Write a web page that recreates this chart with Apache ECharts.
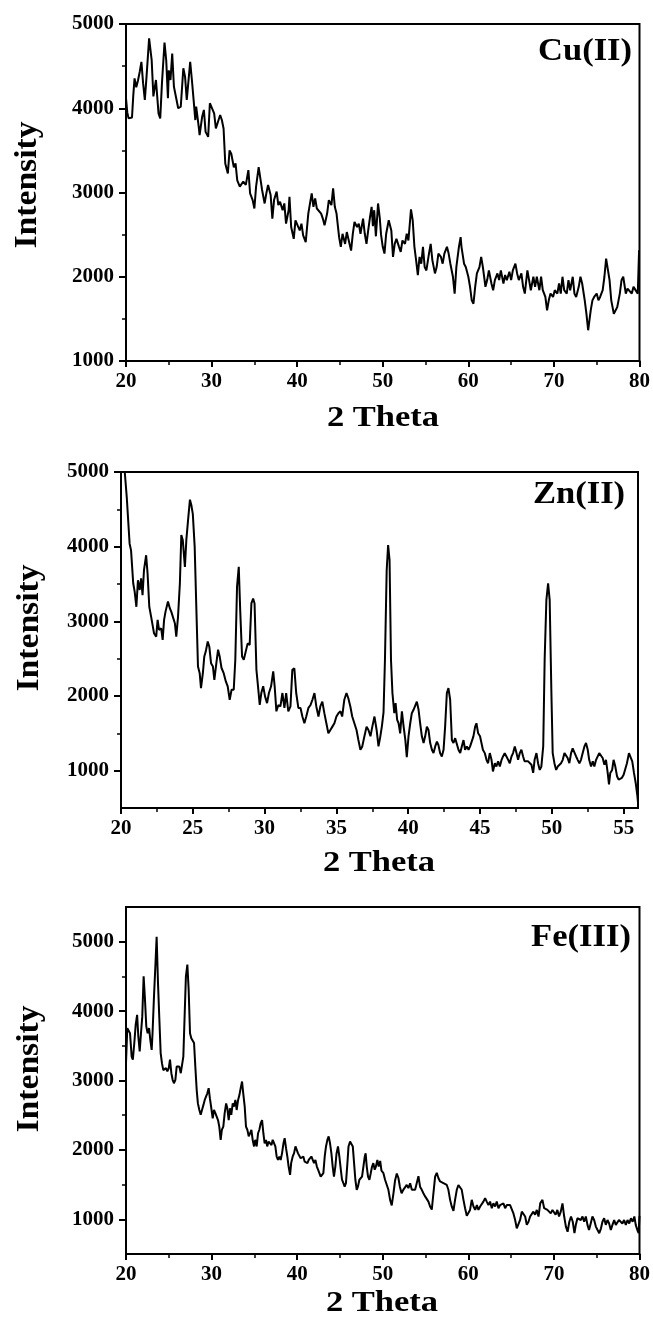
<!DOCTYPE html>
<html>
<head>
<meta charset="utf-8">
<script src="https://cdn.jsdelivr.net/npm/echarts@6.0.0/dist/echarts.min.js"></script>
<style>
html,body{margin:0;padding:0;background:#fff;}
#chart{width:653px;height:1322px;}
</style>
</head>
<body>
<div id="chart"></div>
<script>
// ---------------- DATA ----------------
const cuTheta = [20.0,20.15,20.3,20.5,20.7,20.85,21.0,21.2,21.4,21.6,21.8,22.0,22.2,22.4,22.7,23.0,23.2,23.5,23.8,24.0,24.2,24.5,24.7,24.9,25.0,25.2,25.4,25.6,25.8,26.1,26.4,26.7,26.9,27.1,27.5,27.7,27.9,28.1,28.2,28.5,28.6,28.9,29.1,29.3,29.6,29.8,30.0,30.3,30.5,30.7,31.0,31.2,31.4,31.6,31.9,32.1,32.3,32.6,32.8,33.0,33.3,33.5,33.7,34.0,34.3,34.5,34.8,35.0,35.2,35.5,35.7,35.9,36.2,36.4,36.6,36.9,37.1,37.3,37.6,37.8,38.0,38.3,38.5,38.7,39.0,39.1,39.3,39.6,39.8,40.0,40.3,40.5,40.7,41.0,41.1,41.3,41.5,41.7,41.9,42.1,42.3,42.5,42.8,43.0,43.2,43.5,43.7,44.0,44.2,44.4,44.6,44.9,45.1,45.3,45.6,45.8,46.0,46.3,46.5,46.7,47.0,47.2,47.4,47.7,47.9,48.1,48.3,48.5,48.7,48.85,49.0,49.2,49.45,49.65,49.8,50.0,50.2,50.4,50.7,51.0,51.2,51.4,51.6,51.9,52.1,52.3,52.6,52.8,53.0,53.3,53.5,53.7,53.9,54.1,54.3,54.5,54.7,54.9,55.1,55.4,55.6,55.8,56.1,56.3,56.5,56.8,57.0,57.2,57.5,57.7,57.9,58.2,58.4,58.6,58.9,59.1,59.2,59.5,59.7,60.0,60.2,60.4,60.6,60.8,61.0,61.3,61.5,61.7,62.0,62.2,62.4,62.7,62.9,63.1,63.4,63.6,63.8,64.1,64.3,64.5,64.8,65.0,65.2,65.5,65.7,65.9,66.2,66.4,66.6,66.9,67.1,67.3,67.6,67.8,68.0,68.3,68.5,68.7,69.0,69.2,69.4,69.6,69.9,70.1,70.4,70.6,70.8,71.0,71.2,71.5,71.7,71.9,72.2,72.4,72.6,72.9,73.1,73.3,73.6,73.8,74.0,74.3,74.5,74.7,75.0,75.2,75.4,75.7,75.9,76.1,76.3,76.5,76.7,77.0,77.2,77.4,77.7,77.9,78.1,78.4,78.6,78.8,79.1,79.3,79.5,79.8,79.95];
const cuIntensity = [4117,3950,3880,3900,3890,4150,4355,4250,4330,4430,4550,4295,4100,4375,4830,4570,4140,4335,3940,3880,4295,4780,4570,4120,4450,4335,4650,4255,4255,4000,4020,4475,4375,4100,4550,4335,4100,3860,4020,3780,3680,3900,3980,3720,3660,4060,4080,3940,3760,3760,3920,3860,3760,3345,3225,3500,3460,3300,3345,3145,3070,3070,3130,3090,3265,2990,2910,2810,3070,3300,3285,3030,2870,2990,3090,2970,2690,2910,3010,2850,2890,2790,2870,2630,2790,2950,2590,2450,2670,2690,2550,2630,2490,2410,2430,2750,2870,2990,2830,2930,2810,2790,2750,2690,2610,2750,2910,2850,3050,2830,2750,2470,2355,2510,2390,2530,2510,2310,2510,2650,2590,2630,2510,2690,2510,2390,2550,2700,2830,2600,2790,2480,2870,2700,2500,2355,2275,2510,2670,2550,2235,2390,2450,2355,2295,2430,2390,2510,2430,2800,2670,2355,2195,2020,2235,2155,2355,2115,2075,2275,2390,2195,2040,2115,2275,2235,2155,2275,2355,2275,2155,2000,1800,2115,2355,2470,2355,2155,2115,2000,1880,1720,1680,1880,2040,2115,2235,2115,1880,1960,2075,1920,1840,1960,2040,1960,2075,1920,2020,1960,2060,1960,2075,2155,2040,1960,2040,1880,1800,2075,1960,1840,2000,1880,2000,1840,2000,1840,1760,1600,1720,1800,1760,1840,1800,1920,1800,2000,1840,1800,1960,1840,2000,1800,1760,1880,2000,1920,1720,1560,1365,1600,1720,1760,1800,1720,1760,1840,2000,2215,2235,1960,1720,1560,1540,1640,1800,1960,2000,1800,1860,1880,1800,1880,1900,1800,2315];

const znTheta = [20.15,20.2,20.4,20.6,20.7,20.85,20.95,21.07,21.18,21.3,21.4,21.5,21.6,21.75,21.85,21.97,22.1,22.2,22.3,22.45,22.55,22.65,22.8,22.9,23.0,23.1,23.27,23.4,23.5,23.6,23.75,23.85,23.97,24.1,24.2,24.3,24.45,24.55,24.67,24.8,24.9,25.0,25.13,25.25,25.36,25.48,25.57,25.7,25.8,25.9,26.04,26.15,26.27,26.4,26.5,26.64,26.76,26.87,27.0,27.15,27.3,27.43,27.57,27.7,27.85,27.96,28.08,28.2,28.3,28.43,28.55,28.68,28.82,28.96,29.08,29.2,29.3,29.43,29.54,29.66,29.77,29.9,30.03,30.17,30.3,30.45,30.6,30.7,30.82,30.96,31.1,31.24,31.38,31.5,31.65,31.8,31.93,32.07,32.2,32.35,32.5,32.63,32.77,32.9,33.05,33.2,33.33,33.47,33.6,33.75,33.88,34.02,34.16,34.3,34.44,34.58,34.72,34.86,35.0,35.14,35.28,35.4,35.55,35.7,35.83,35.97,36.1,36.25,36.4,36.53,36.67,36.8,36.95,37.1,37.23,37.37,37.5,37.65,37.8,37.93,38.05,38.17,38.28,38.38,38.5,38.6,38.7,38.8,38.9,39.03,39.12,39.23,39.33,39.44,39.56,39.68,39.8,39.9,40.02,40.14,40.25,40.37,40.5,40.6,40.72,40.83,40.95,41.07,41.18,41.3,41.41,41.53,41.65,41.76,41.88,42.0,42.1,42.22,42.34,42.46,42.57,42.69,42.8,42.92,43.04,43.15,43.27,43.38,43.5,43.62,43.73,43.85,43.96,44.08,44.2,44.31,44.43,44.54,44.66,44.75,44.87,45.0,45.1,45.2,45.33,45.45,45.56,45.68,45.8,45.9,46.03,46.14,46.26,46.38,46.5,46.6,46.72,46.84,46.96,47.07,47.19,47.3,47.42,47.54,47.65,47.77,47.88,48.0,48.1,48.23,48.35,48.46,48.58,48.7,48.8,48.93,49.04,49.16,49.27,49.4,49.5,49.62,49.74,49.85,49.97,50.06,50.18,50.3,50.41,50.53,50.64,50.76,50.88,51.0,51.1,51.22,51.34,51.45,51.57,51.69,51.8,51.92,52.03,52.15,52.27,52.38,52.5,52.6,52.73,52.85,52.96,53.08,53.2,53.3,53.42,53.54,53.66,53.77,53.89,53.98,54.07,54.2,54.3,54.42,54.54,54.65,54.77,54.88,55.0,55.1,55.23,55.37,55.49,55.6,55.72,55.84,55.96,56.0];
const znIntensity = [5400,5150,4665,4040,3950,3510,3400,3195,3550,3420,3575,3350,3685,3885,3640,3195,3060,3040,2840,2795,3020,2885,2905,2750,3020,3130,3265,3175,3130,3130,2975,2795,3060,3510,4155,4090,3730,4090,4355,4630,4555,4440,4000,3150,2395,2305,2105,2305,2530,2595,2730,2660,2440,2395,2215,2440,2620,2530,2375,2305,2195,2130,1950,2085,2085,2485,3465,3730,3150,2530,2485,2505,2705,2685,3240,3305,3240,2350,2130,1880,2040,2130,1995,1905,2040,2130,2330,2130,1795,1880,1860,2040,1840,2040,1795,1860,2350,2370,2040,1840,1840,1725,1635,1725,1840,1880,1950,2040,1860,1725,1860,1925,1770,1635,1500,1545,1590,1635,1725,1770,1795,1725,1950,2040,1970,1860,1725,1635,1545,1410,1280,1325,1460,1590,1545,1460,1590,1725,1545,1325,1450,1600,1780,2485,3685,4020,3820,2485,2040,1770,1905,1680,1635,1500,1795,1590,1410,1180,1460,1635,1770,1815,1840,1925,1815,1635,1460,1370,1460,1590,1545,1370,1280,1235,1325,1390,1345,1235,1190,1280,1590,2040,2105,1950,1410,1370,1435,1410,1280,1235,1325,1410,1280,1325,1280,1325,1345,1460,1590,1635,1500,1460,1370,1280,1235,1145,1100,1235,1145,990,1100,1055,1125,1055,1145,1190,1235,1190,1145,1100,1190,1235,1325,1235,1145,1235,1280,1190,1125,1145,1125,1100,1080,970,1145,1235,1100,1010,1055,1325,2485,3285,3510,3285,2040,1235,1100,1010,1055,1035,1100,1145,1235,1260,1170,1100,1235,1300,1280,1190,1145,1100,1145,1235,1325,1370,1280,1145,1055,1125,1055,1145,1125,1235,1260,1170,1080,1145,970,815,970,1010,1145,1055,925,880,860,905,945,970,1100,1235,1260,1125,970,835,655,570];

const feTheta = [20.0,20.15,20.3,20.47,20.66,20.8,20.97,21.13,21.3,21.44,21.6,21.75,21.9,22.06,22.2,22.37,22.53,22.7,22.84,23.0,23.1,23.27,23.43,23.58,23.74,23.9,24.05,24.2,24.36,24.52,24.67,24.83,25.0,25.14,25.3,25.45,25.6,25.77,25.92,26.08,26.23,26.4,26.54,26.7,26.86,27.0,27.17,27.32,27.48,27.63,27.8,27.95,28.1,28.26,28.4,28.57,28.73,28.88,29.04,29.2,29.35,29.5,29.66,29.8,29.97,30.13,30.28,30.44,30.6,30.75,30.9,31.06,31.2,31.37,31.53,31.7,31.84,32.0,32.15,32.3,32.47,32.62,32.78,32.93,33.1,33.25,33.4,33.56,33.7,33.87,34.02,34.18,34.34,34.5,34.65,34.8,34.96,35.1,35.27,35.43,35.58,35.74,35.9,36.05,36.2,36.36,36.5,36.67,36.83,37.0,37.14,37.3,37.45,37.6,37.76,37.92,38.07,38.23,38.4,38.54,38.7,38.85,39.0,39.17,39.3,39.48,39.63,39.8,39.95,40.1,40.26,40.41,40.57,40.72,40.88,41.04,41.2,41.35,41.5,41.66,41.8,41.97,42.13,42.3,42.44,42.6,42.75,42.9,43.06,43.22,43.37,43.53,43.68,43.84,44.0,44.15,44.3,44.46,44.6,44.77,44.93,45.1,45.24,45.4,45.55,45.7,45.87,46.0,46.18,46.33,46.5,46.65,46.8,46.96,47.1,47.27,47.43,47.58,47.74,47.9,48.0,48.13,48.28,48.44,48.6,48.75,48.9,49.06,49.2,49.37,49.53,49.7,49.85,50.08,50.27,50.47,50.66,50.86,51.05,51.25,51.44,51.64,51.83,52.0,52.2,52.4,52.6,52.8,53.0,53.2,53.4,53.58,53.78,53.97,54.17,54.36,54.56,54.75,54.95,55.14,55.34,55.53,55.73,55.92,56.12,56.31,56.5,56.7,56.9,57.09,57.28,57.48,57.67,57.87,58.06,58.26,58.45,58.65,58.84,59.04,59.23,59.43,59.62,59.82,60.0,60.2,60.4,60.6,60.8,61.0,61.18,61.38,61.57,61.76,61.96,62.15,62.35,62.54,62.74,62.93,63.13,63.32,63.52,63.71,63.9,64.1,64.3,64.5,64.7,64.88,65.08,65.27,65.47,65.66,65.86,66.05,66.25,66.44,66.64,66.83,67.03,67.22,67.42,67.6,67.8,68.0,68.2,68.4,68.66,68.86,69.05,69.24,69.44,69.63,69.83,70.0,70.2,70.4,70.6,70.8,71.0,71.2,71.4,71.6,71.8,72.0,72.2,72.4,72.56,72.75,72.95,73.14,73.34,73.53,73.73,73.92,74.1,74.3,74.5,74.7,74.9,75.1,75.3,75.5,75.67,75.87,76.06,76.26,76.45,76.65,76.84,77.04,77.23,77.43,77.6,77.8,78.0,78.2,78.4,78.6,78.8,79.0,79.2,79.4,79.56,79.75,79.9,80.0];
const feIntensity = [3250,3755,3780,3680,3345,3300,3540,3800,3945,3635,3420,3680,3920,4500,4210,3780,3680,3755,3585,3440,3680,4210,4645,5070,4400,3875,3395,3250,3150,3130,3180,3130,3180,3300,3105,3010,2960,3010,3200,3225,3200,3105,3130,3345,3970,4500,4670,4310,3680,3610,3635,3540,3200,2865,2670,2575,2505,2575,2645,2720,2720,2815,2890,2745,2600,2455,2575,2530,2550,2430,2335,2145,2290,2335,2530,2670,2600,2430,2600,2505,2670,2625,2720,2575,2720,2790,2890,2985,2815,2625,2335,2290,2195,2240,2290,2145,2050,2145,2050,2240,2290,2385,2430,2240,2095,2145,2050,2120,2145,2070,2145,2145,2050,1905,1855,1905,1855,1950,2095,2170,2025,1905,1760,1640,1810,1905,1950,2050,2000,1950,1930,1880,1855,1905,1830,1855,1810,1855,1830,1905,1880,1810,1855,1760,1715,1690,1615,1615,1665,1905,2050,2145,2195,2095,1950,1760,1615,1760,1950,2050,1905,1715,1570,1520,1470,1520,1810,2050,2120,2145,2050,1810,1570,1425,1470,1570,1545,1615,1760,1905,1950,1760,1615,1570,1665,1760,1810,1715,1760,1855,1760,1840,1700,1665,1570,1595,1425,1280,1200,1375,1560,1660,1595,1470,1375,1425,1450,1495,1450,1520,1425,1450,1425,1520,1620,1470,1425,1375,1330,1330,1255,1185,1140,1375,1615,1670,1595,1545,1570,1520,1545,1495,1425,1280,1185,1120,1280,1425,1495,1500,1425,1280,1160,1050,1060,1135,1280,1185,1135,1205,1135,1185,1205,1255,1305,1255,1205,1255,1160,1230,1185,1255,1160,1205,1185,1230,1160,1205,1185,1205,1185,1085,990,870,845,990,1110,1135,1040,920,965,1040,1015,1110,1065,1135,1040,1230,1280,1160,1185,1135,1160,1085,1135,1110,1065,1135,1040,1110,1230,1040,895,820,965,1040,965,800,920,1015,1040,990,1040,965,1040,920,845,940,1040,990,895,845,800,870,965,1015,920,990,940,845,920,990,920,895,990,1015,940,990,920,990,940,1015,965,1040,920,845,800,1050];

// tick labels
const ticks80 = [20,30,40,50,60,70,80];
const minor80 = [25,35,45,55,65,75];
const ticks56 = [20,25,30,35,40,45,50,55];
const minor56 = [22.5,27.5,32.5,37.5,42.5,47.5,52.5];
const yTicks = [1000,2000,3000,4000,5000];
const yMinor = [1500,2500,3500,4500];

const panelNames = ['Cu(II)','Zn(II)','Fe(III)'];
const xName = '2 Theta';
const yName = 'Intensity';

// ---------------- CHART ----------------
const FONT = '"Liberation Serif","Times New Roman",serif';
const zip = (xs, ys) => xs.map((x, i) => [x, ys[i]]);

const grids = [
  {left:126, top:24, width:515, height:337},
  {left:121, top:472, width:517, height:336},
  {left:126, top:907, width:514, height:347}
];
const xr = [[20,80,ticks80,minor80],[20,56,ticks56,minor56],[20,80,ticks80,minor80]];
const yr = [[1000,5000],[500,5000],[500,5500]];

const plain = v => String(v);
const xAxes = [], yAxes = [];
grids.forEach((g, i) => {
  xAxes.push({
    type:'value', gridIndex:i, position:'bottom', min:xr[i][0], max:xr[i][1],
    axisLine:{show:true, onZero:false, lineStyle:{color:'#000', width:2}},
    axisTick:{show:true, customValues:xr[i][2], length:6, lineStyle:{color:'#000', width:2}},
    axisLabel:{customValues:xr[i][2], formatter:plain, color:'#000', fontFamily:FONT, fontWeight:'bold', fontSize:21, margin:10},
    splitLine:{show:false}
  });
  xAxes.push({
    type:'value', gridIndex:i, position:'bottom', min:xr[i][0], max:xr[i][1],
    axisLine:{show:false, onZero:false},
    axisTick:{show:true, customValues:xr[i][3], length:4, lineStyle:{color:'#000', width:1.5}},
    axisLabel:{show:false}, splitLine:{show:false}
  });
  yAxes.push({
    type:'value', gridIndex:i, position:'left', min:yr[i][0], max:yr[i][1],
    axisLine:{show:true, onZero:false, lineStyle:{color:'#000', width:2}},
    axisTick:{show:true, customValues:yTicks, length:7, lineStyle:{color:'#000', width:2}},
    axisLabel:{customValues:yTicks, formatter:plain, color:'#000', fontFamily:FONT, fontWeight:'bold', fontSize:21, margin:12},
    splitLine:{show:false}
  });
  yAxes.push({
    type:'value', gridIndex:i, position:'left', min:yr[i][0], max:yr[i][1],
    axisLine:{show:false, onZero:false},
    axisTick:{show:true, customValues:yMinor, length:4, lineStyle:{color:'#000', width:1.5}},
    axisLabel:{show:false}, splitLine:{show:false}
  });
});

const dataSets = [zip(cuTheta, cuIntensity), zip(znTheta, znIntensity), zip(feTheta, feIntensity)];
const series = dataSets.map((d, i) => ({
  type:'line', xAxisIndex:i*2, yAxisIndex:i*2, data:d,
  showSymbol:false, symbol:'none', clip:true, animation:false,
  lineStyle:{color:'#000', width:2}
}));

const txt = (text, x, y, size, rot, sx) => ({
  type:'text', x:x, y:y, rotation:rot || 0, scaleX: sx || 1,
  style:{text:text, fill:'#000', font:'bold ' + size + 'px ' + FONT, textAlign:'center', textVerticalAlign:'middle'}
});
const labelPos = [[585,52],[579,495],[581,938]];
const xNamePos = [[383,418],[379,863],[382,1303]];
const yNamePos = [[28,185],[30,628],[30,1069]];
const graphics = [];
for (let i = 0; i < 3; i++) {
  graphics.push(txt(panelNames[i], labelPos[i][0], labelPos[i][1], 32, 0, 1.08));
  graphics.push(txt(xName, xNamePos[i][0], xNamePos[i][1], 30, 0, 1.15));
  graphics.push(txt(yName, yNamePos[i][0], yNamePos[i][1], 32, Math.PI/2, 1.05));
}

const chart = echarts.init(document.getElementById('chart'), null, {renderer:'canvas'});
chart.setOption({
  backgroundColor:'#fff',
  animation:false,
  grid: grids.map(g => Object.assign({show:true, borderColor:'#000', borderWidth:2, backgroundColor:'transparent', containLabel:false}, g)),
  xAxis: xAxes,
  yAxis: yAxes,
  series: series,
  graphic: graphics
});
</script>
</body>
</html>
